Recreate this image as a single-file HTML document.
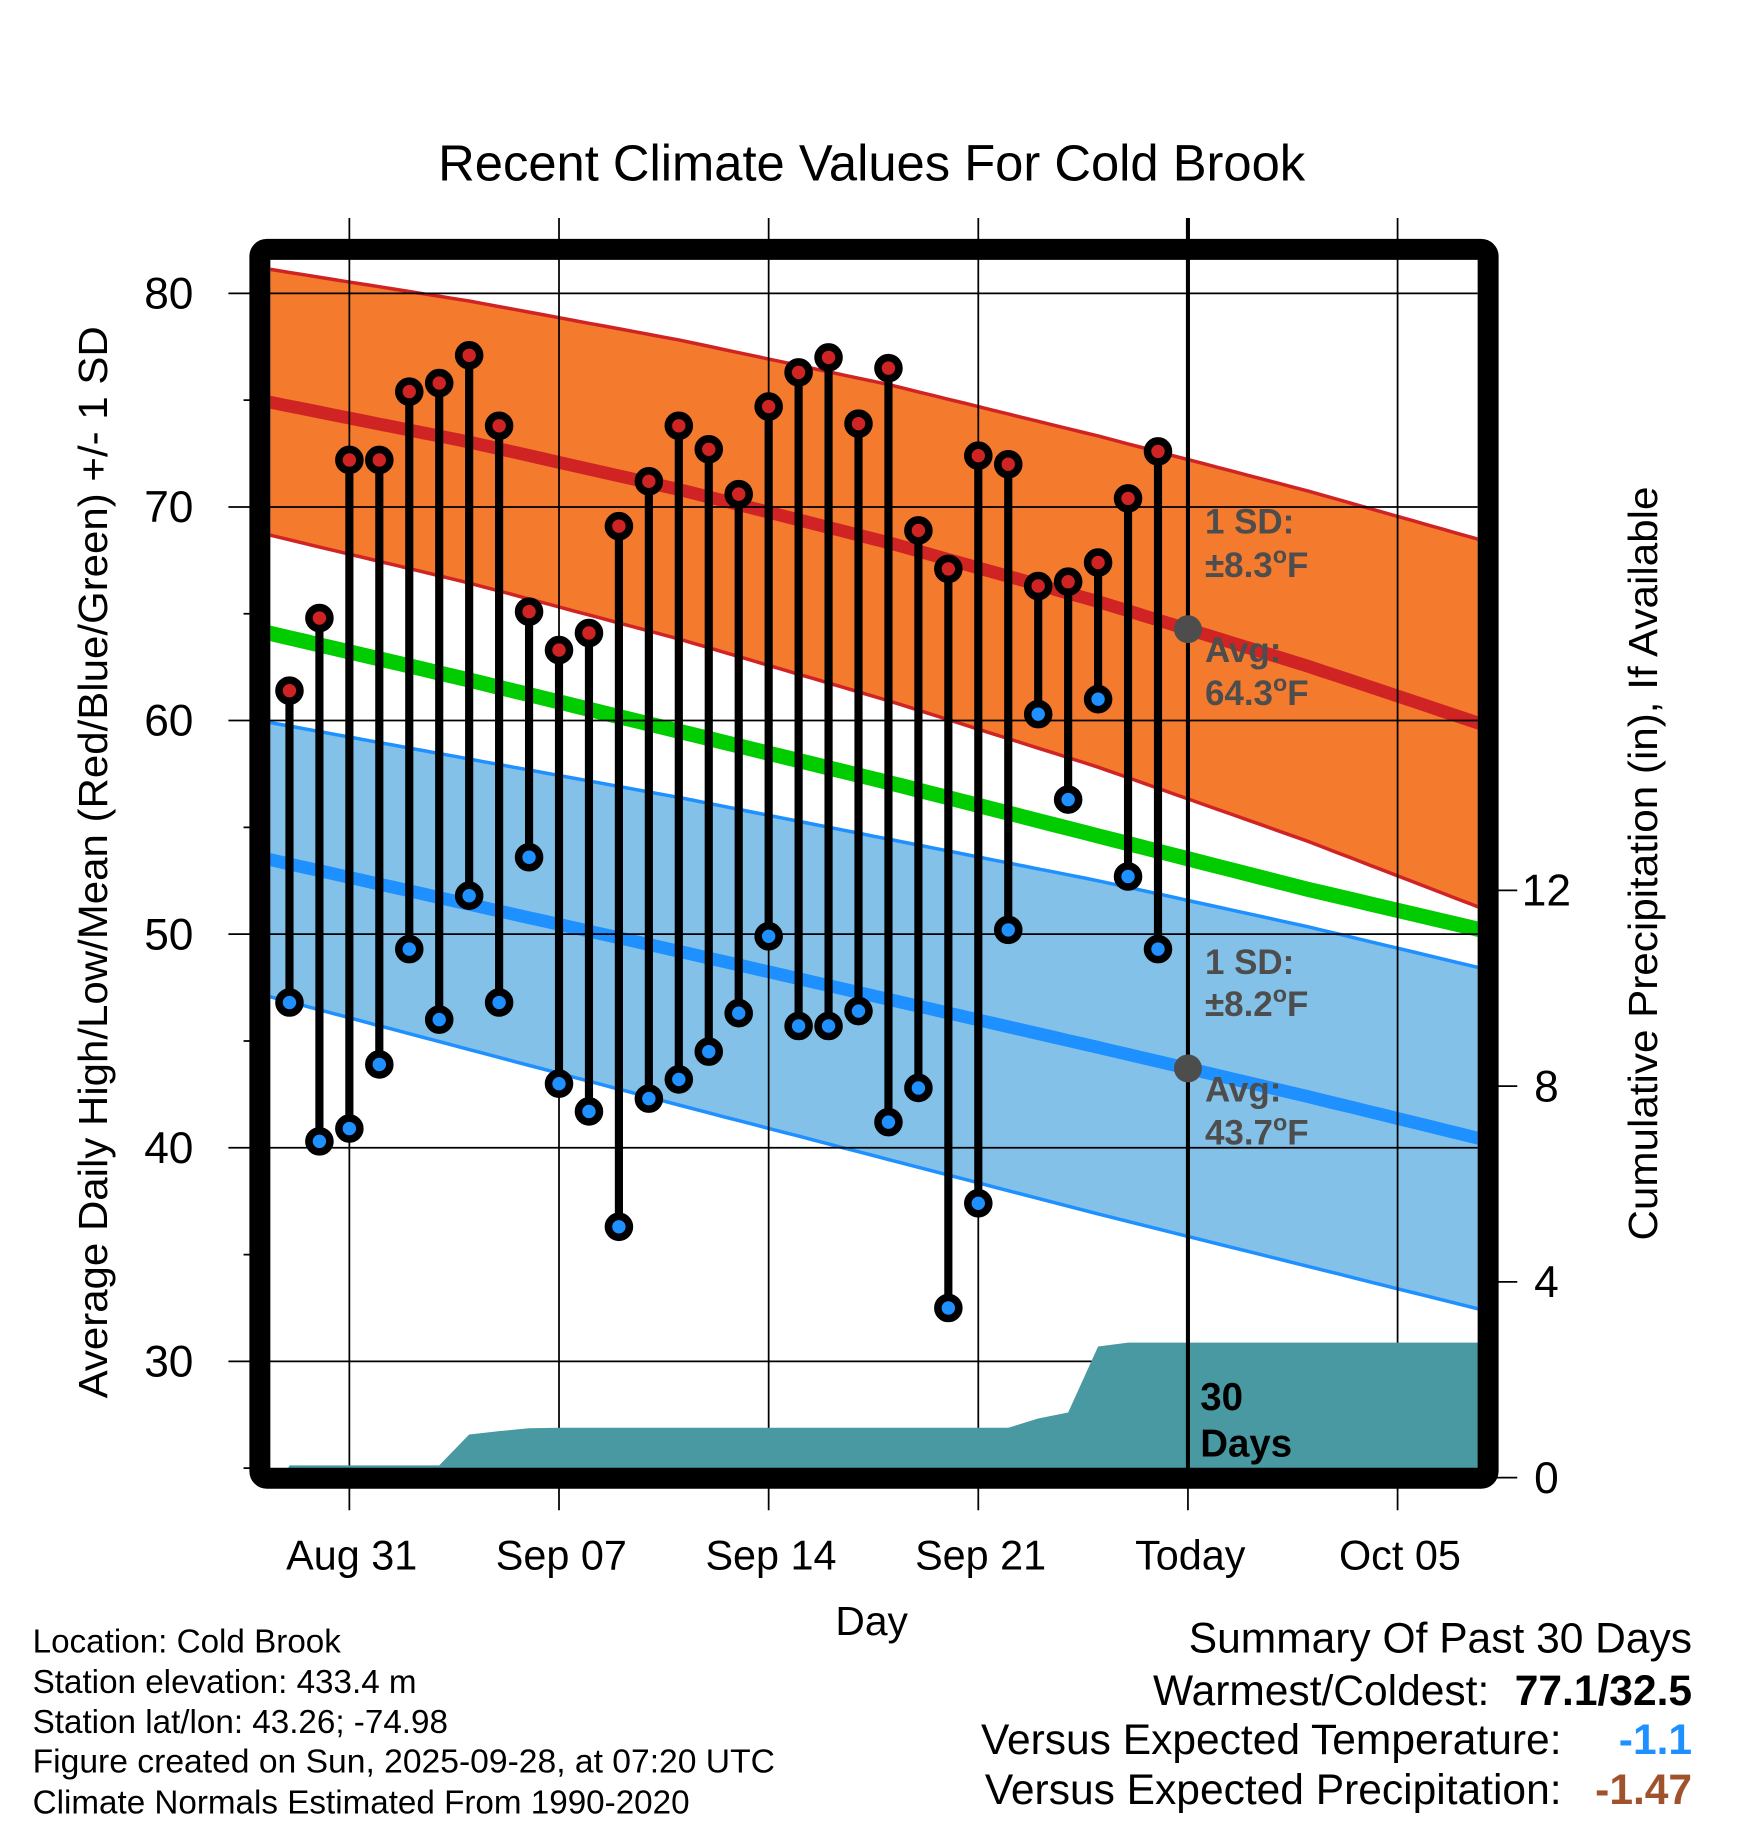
<!DOCTYPE html>
<html><head><meta charset="utf-8"><style>
html,body{margin:0;padding:0;background:#fff}
svg{display:block;font-family:"Liberation Sans",Arial,sans-serif}
</style></head><body>
<svg id="chart" width="1748" height="1828" viewBox="0 0 1500 1568.6" xmlns="http://www.w3.org/2000/svg">
<defs><clipPath id="plotclip"><rect x="232" y="223" width="1036" height="1037"/></clipPath></defs>
<rect width="1500" height="1568.6" fill="#fff"/>
<text x="748" y="155" font-size="43.5" text-anchor="middle" textLength="744" lengthAdjust="spacingAndGlyphs">Recent Climate Values For Cold Brook</text>
<g id="plot" clip-path="url(#plotclip)"></g>
<g id="over"></g>
<text transform="translate(92,740) rotate(-90)" font-size="35" text-anchor="middle" textLength="920" lengthAdjust="spacingAndGlyphs">Average Daily High/Low/Mean (Red/Blue/Green) +/- 1 SD</text>
<text transform="translate(1422,741) rotate(-90)" font-size="35" text-anchor="middle" textLength="647" lengthAdjust="spacingAndGlyphs">Cumulative Precipitation (in), If Available</text>
<text x="748" y="1403" font-size="35" text-anchor="middle">Day</text>
<g font-size="28.5">
<text x="28" y="1418">Location: Cold Brook</text>
<text x="28" y="1453">Station elevation: 433.4 m</text>
<text x="28" y="1487">Station lat/lon: 43.26; -74.98</text>
<text x="28" y="1521" textLength="637" lengthAdjust="spacingAndGlyphs">Figure created on Sun, 2025-09-28, at 07:20 UTC</text>
<text x="28" y="1556">Climate Normals Estimated From 1990-2020</text>
</g>
<g font-size="36.5">
<text x="1452" y="1418" text-anchor="end">Summary Of Past 30 Days</text>
<text x="1278" y="1463" text-anchor="end">Warmest/Coldest:</text>
<text x="1452" y="1463" text-anchor="end" font-weight="bold">77.1/32.5</text>
<text x="1340" y="1505" text-anchor="end">Versus Expected Temperature:</text>
<text x="1452" y="1505" text-anchor="end" font-weight="bold" fill="#1e90ff">-1.1</text>
<text x="1340" y="1548" text-anchor="end">Versus Expected Precipitation:</text>
<text x="1452" y="1548" text-anchor="end" font-weight="bold" fill="#a0522d">-1.47</text>
</g>
</svg>
<script>
// ---- data ----
const dayOffsets = [-2,-1,0,1,2,3,4,5,6,7,8,9,10,11,12,13,14,15,16,17,18,19,20,21,22,23,24,25,26,27]; // days since Aug 31
const highs = [61.4,64.8,72.2,72.2,75.4,75.8,77.1,73.8,65.1,63.3,64.1,69.1,71.2,73.8,72.7,70.6,74.7,76.3,77.0,73.9,76.5,68.9,67.1,72.4,72.0,66.3,66.5,67.4,70.4,72.6];
const lows = [46.8,40.3,40.9,43.9,49.3,46.0,51.8,46.8,53.6,43.0,41.7,36.3,42.3,43.2,44.5,46.3,49.9,45.7,45.7,46.4,41.2,42.8,32.5,37.4,50.2,60.3,56.3,61.0,52.7,49.3];
const precip = [0.25,0.25,0.25,0.25,0.25,0.25,0.88,0.95,1.01,1.02,1.02,1.02,1.02,1.02,1.02,1.02,1.02,1.02,1.02,1.02,1.02,1.02,1.02,1.02,1.02,1.21,1.33,2.68,2.76,2.76];
const normDays = [-3,4,11,18,25,32,39];
const normHigh = [75.0,73.04,70.82,68.33,65.57,62.55,59.27];
const normHighSD = [6.2,6.6,7.0,7.4,7.75,8.2,8.7];
const normLow = [53.6,51.4,49.2,46.95,44.7,42.4,40.0];
const normLowSD = [6.4,6.8,7.2,7.5,7.8,7.95,8.0];
const normMean = [64.2,61.9,59.5,57.1,54.6,52.1,49.8];
const xTickDays = [0,7,14,21,28,35];
const xTickLabels = ["Aug 31","Sep 07","Sep 14","Sep 21","Today","Oct 05"];
const yTicks = [30,40,50,60,70,80];
const y2Ticks = [0,4,8,12];
const todayDay = 28;
// ---- axes ----
const X = t => 299.8 + t*25.7;
const Y = v => 251.7 + (80 - v)*18.33;
const YP = p => 1268 - p*42;
const NS = "http://www.w3.org/2000/svg";
const plot = document.getElementById('plot'), over = document.getElementById('over'), svg = document.getElementById('chart');
function mk(tag, attrs, parent){const e=document.createElementNS(NS,tag);for(const k in attrs)e.setAttribute(k,attrs[k]);(parent||plot).appendChild(e);return e;}
function interp(arr, t){
  for(let i=0;i<normDays.length-1;i++){if(t<=normDays[i+1]||i===normDays.length-2){const f=(t-normDays[i])/(normDays[i+1]-normDays[i]);return arr[i]+f*(arr[i+1]-arr[i]);}}
}
const samples=[];for(let t=-3;t<=39.001;t+=0.5)samples.push(t);
function linePts(fn){return samples.map(t=>X(t).toFixed(1)+','+Y(fn(t)).toFixed(1)).join(' ');}
function band(fn1,fn2){return samples.map(t=>X(t).toFixed(1)+','+Y(fn1(t)).toFixed(1)).concat(samples.slice().reverse().map(t=>X(t).toFixed(1)+','+Y(fn2(t)).toFixed(1))).join(' ');}
const hiU=t=>interp(normHigh,t)+interp(normHighSD,t), hiL=t=>interp(normHigh,t)-interp(normHighSD,t);
const loU=t=>interp(normLow,t)+interp(normLowSD,t), loL=t=>interp(normLow,t)-interp(normLowSD,t);
let e;
e=mk('polygon',{points:band(hiU,hiL),fill:'#f47a2e'});

e=mk('polyline',{points:linePts(hiU),fill:'none',stroke:'#d02424','stroke-width':3});

e=mk('polyline',{points:linePts(hiL),fill:'none',stroke:'#d02424','stroke-width':3});

e=mk('polygon',{points:band(loU,loL),fill:'#84c1e8'});

e=mk('polyline',{points:linePts(loU),fill:'none',stroke:'#1e90ff','stroke-width':3});

e=mk('polyline',{points:linePts(loL),fill:'none',stroke:'#1e90ff','stroke-width':3});

e=mk('polyline',{points:linePts(t=>interp(normMean,t)),fill:'none',stroke:'#00cc00','stroke-width':13});

e=mk('polyline',{points:linePts(t=>interp(normHigh,t)),fill:'none',stroke:'#d02424','stroke-width':11});

e=mk('polyline',{points:linePts(t=>interp(normLow,t)),fill:'none',stroke:'#1e90ff','stroke-width':11});

// gridlines
yTicks.forEach(v=>{
  e=mk('line',{x1:196,x2:1268,y1:Y(v),y2:Y(v),stroke:'#000','stroke-width':1.5},over);
  
  e=mk('text',{x:166,y:Y(v)+13,'font-size':38,'text-anchor':'end'},svg);e.textContent=v;
  
});
[25,35,45,55,65,75].forEach(v=>{
  e=mk('line',{x1:209,x2:224,y1:Y(v),y2:Y(v),stroke:'#000','stroke-width':1.5},over);
  
});
xTickDays.forEach((d,i)=>{
  e=mk('line',{x1:X(d),x2:X(d),y1:187,y2:1296,stroke:'#000','stroke-width':1.5},over);
  
  e=mk('text',{x:X(d)+2,y:1347,'font-size':35.5,'text-anchor':'middle'},svg);e.textContent=xTickLabels[i];
  
});
y2Ticks.forEach(p=>{
  e=mk('line',{x1:1277,x2:1302,y1:YP(p),y2:YP(p),stroke:'#000','stroke-width':1.5},svg);
  
  e=mk('text',{x:1327,y:YP(p)+13,'font-size':38,'text-anchor':'middle'},svg);e.textContent=p;
  
});
// precipitation area
let pp=[X(dayOffsets[0])-5+','+YP(0)];
dayOffsets.forEach((d,i)=>pp.push(X(d).toFixed(1)+','+YP(precip[i]).toFixed(1)));
pp.push('1270,'+YP(precip[precip.length-1]).toFixed(1));pp.push('1270,'+YP(0));
e=mk('polygon',{points:pp.join(' '),fill:'#4899a2'},over);

// today line
e=mk('line',{x1:X(todayDay),x2:X(todayDay),y1:187,y2:1268,stroke:'#000','stroke-width':3.5},over);

e=mk('text',{x:1030,y:1210,'font-size':33,'font-weight':'bold'},over);e.textContent='30';

e=mk('text',{x:1030,y:1250,'font-size':33,'font-weight':'bold'},over);e.textContent='Days';

// annotations
function ann(parts,y){
  const t=mk('text',{x:1034,y:y,'font-size':30,'font-weight':'bold',fill:'#4d4d4d'},over);
  
  parts.forEach(p=>{const s=document.createElementNS(NS,'tspan');s.textContent=p[0];if(p[1]){s.setAttribute('dy',p[1]);}if(p[2])s.setAttribute('font-size',p[2]);t.appendChild(s);});
}
ann([['1 SD:']],458);
ann([['\u00b18.3'],['o',-12,20],['F',12]],495);
ann([['Avg:']],568);
ann([['64.3'],['o',-12,20],['F',12]],605);
ann([['1 SD:']],836);
ann([['\u00b18.2'],['o',-12,20],['F',12]],872);
ann([['Avg:']],945);
ann([['43.7'],['o',-12,20],['F',12]],982);
e=mk('circle',{cx:X(todayDay),cy:Y(interp(normHigh,todayDay)),r:12,fill:'#4d4d4d'},over);

e=mk('circle',{cx:X(todayDay),cy:Y(interp(normLow,todayDay)),r:12,fill:'#4d4d4d'},over);

// stems and dots
dayOffsets.forEach((d,i)=>{
  e=mk('line',{x1:X(d),x2:X(d),y1:Y(highs[i]),y2:Y(lows[i]),stroke:'#000','stroke-width':7},over);
  
  e=mk('circle',{cx:X(d),cy:Y(highs[i]),r:9,fill:'#d02424',stroke:'#000','stroke-width':6.5},over);
  
  e=mk('circle',{cx:X(d),cy:Y(lows[i]),r:9,fill:'#1e90ff',stroke:'#000','stroke-width':6.5},over);
  
});
// frame
e=mk('rect',{x:223,y:214,width:1054,height:1054.5,rx:6,fill:'none',stroke:'#000','stroke-width':18},over);

</script>
</body></html>
